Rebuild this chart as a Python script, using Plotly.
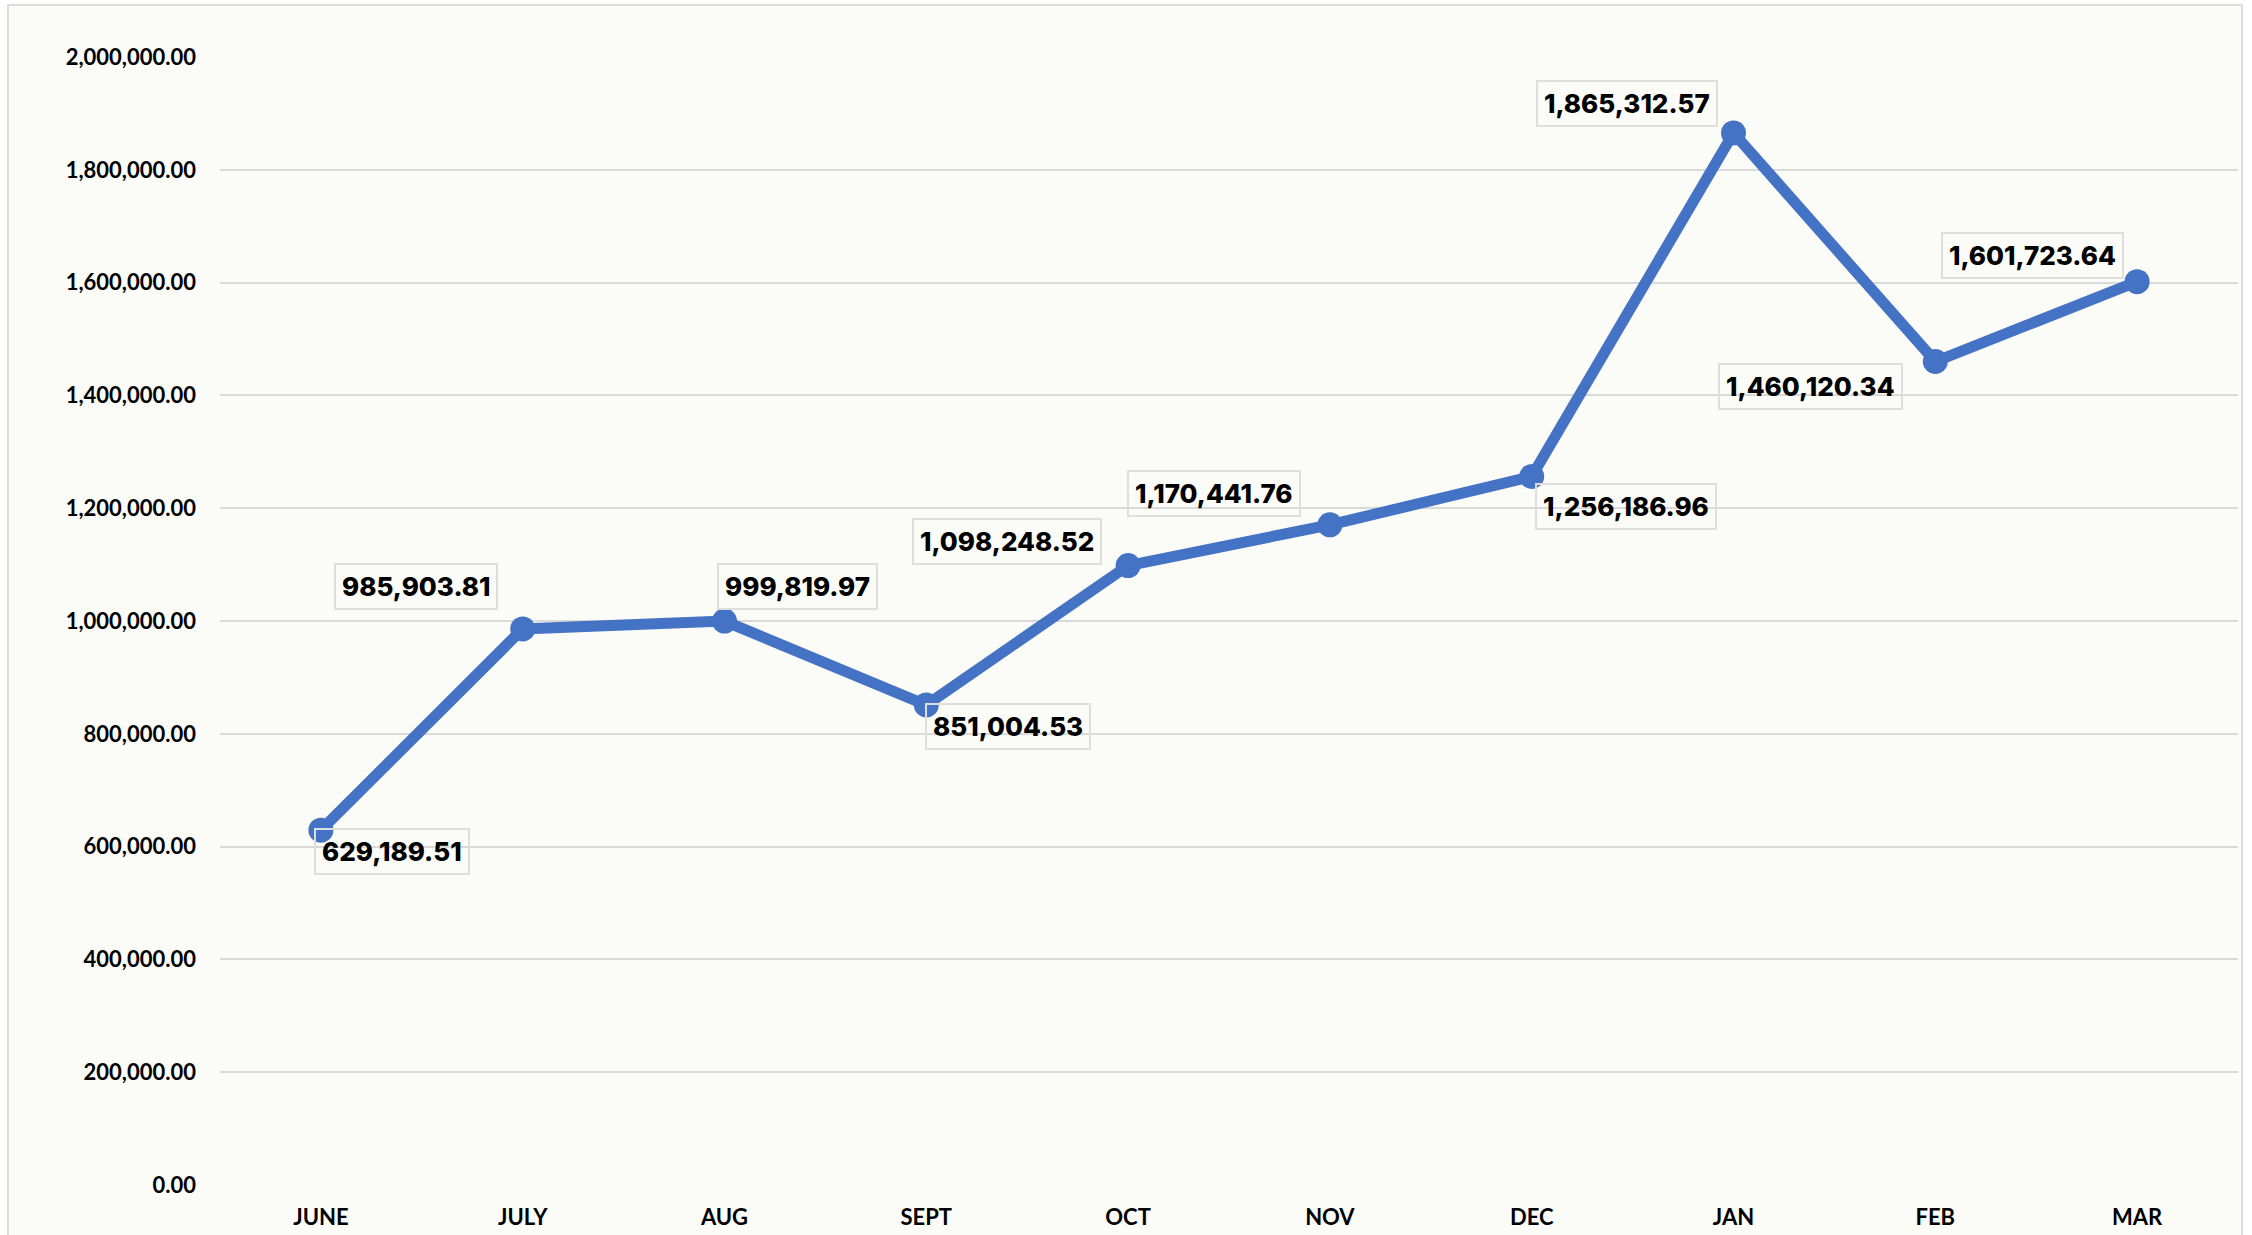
import plotly.graph_objects as go

# ---- data ----
months = ["JUNE", "JULY", "AUG", "SEPT", "OCT", "NOV", "DEC", "JAN", "FEB", "MAR"]
values = [629189.51, 985903.81, 999819.97, 851004.53, 1098248.52,
          1170441.76, 1256186.96, 1865312.57, 1460120.34, 1601723.64]
y_ticks = [0, 200000, 400000, 600000, 800000, 1000000, 1200000,
           1400000, 1600000, 1800000, 2000000]

# ---- label placement (style, not data) ----
label_pos = [
    ("left", -7, "top", 2),
    ("right", -25, "bottom", 19),
    ("left", -8, "bottom", 11),
    ("left", -1, "top", 2),
    ("right", -26, "bottom", 1),
    ("right", -29, "bottom", 8),
    ("left", 3, "top", -6),
    ("right", -16, "bottom", 6),
    ("right", -32, "top", -2),
    ("right", -13, "bottom", 3),
]

W, H = 2252, 1235
L, R, T, B = 220, 14, 57, 50
pw = W - L - R
ph = H - T - B

BLUE = "#4472C4"
CREAM = "#FBFCF7"
GRID = "#D9D9D9"

fig = go.Figure()
fig.add_trace(go.Scatter(
    x=months, y=values, mode="lines+markers",
    line=dict(color=BLUE, width=11),
    marker=dict(color=BLUE, size=25),
    hoverinfo="skip", showlegend=False,
))

for m, v, (xa, xs, ya, ys) in zip(months, values, label_pos):
    fig.add_annotation(
        x=m, y=v, xref="x", yref="y",
        text=f"{v:,.2f}", showarrow=False,
        xanchor=xa, yanchor=ya, xshift=xs, yshift=ys,
        font=dict(family="Inter, Roboto, Liberation Sans", size=26, color="black", weight=800),
        bordercolor="#DEDEDE", borderwidth=2, borderpad=6,
    )

# outer chart border
fig.add_shape(
    type="rect", xref="paper", yref="paper", layer="below",
    x0=(8 - L) / pw, x1=(2242 - L) / pw,
    y0=(H - T - (H + 20)) / ph, y1=(H - B - 5) / ph,
    fillcolor=CREAM, line=dict(color="#DCDCDC", width=2),
)

fig.update_layout(
    width=W, height=H,
    margin=dict(l=L, r=R, t=T, b=B, pad=0, autoexpand=False),
    paper_bgcolor="white",
    plot_bgcolor="rgba(0,0,0,0)",
    font=dict(family="Lato, Open Sans, sans-serif", color="black"),
)
fig.update_xaxes(
    type="category", range=[-0.5, 9.5], automargin=False,
    showgrid=False, showline=False, zeroline=False,
    tickfont=dict(family="Lato", size=22, color="black", weight="bold"),
    ticklabelstandoff=17,
)
fig.update_yaxes(
    range=[0, 2000000], tickvals=y_ticks, tickformat=",.2f", automargin=False,
    showgrid=True, gridcolor=GRID, gridwidth=2,
    showline=False, zeroline=False,
    tickfont=dict(family="Lato", size=22, color="black", weight="bold"),
    ticklabelstandoff=23,
)

fig.write_html(
    "out.html",
    config={"displayModeBar": False},
    post_script="document.body.style.margin='0';document.body.style.overflow='hidden';",
)
